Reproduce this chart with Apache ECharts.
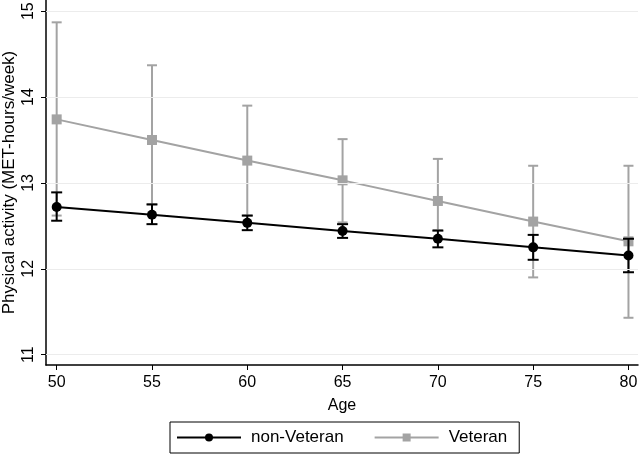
<!DOCTYPE html>
<html><head><meta charset="utf-8">
<script src="https://cdn.jsdelivr.net/npm/echarts@6/dist/echarts.min.js"></script>
<style>html,body{margin:0;padding:0;background:#fff}#c{width:640px;height:454px}</style>
</head><body><div id="c"></div>
<script>
const ages = [50, 55, 60, 65, 70, 75, 80];
const nonVetMean = [12.72, 12.63, 12.535, 12.44, 12.35, 12.25, 12.155];
const nonVetLow  = [12.56, 12.52, 12.45, 12.36, 12.25, 12.105, 11.96];
const nonVetHigh = [12.89, 12.75, 12.62, 12.52, 12.445, 12.395, 12.35];
const vetMean = [13.74, 13.50, 13.26, 13.03, 12.79, 12.55, 12.32];
const vetLow  = [12.62, 12.75, 12.62, 12.54, 12.45, 11.90, 11.43];
const vetHigh = [14.87, 14.37, 13.90, 13.51, 13.28, 13.20, 13.20];
const xTicks = [50, 55, 60, 65, 70, 75, 80];
const yTicks = [11, 12, 13, 14, 15];

const BLACK = '#000000', GRAY = '#a3a3a3';
const FONT = 'Liberation Sans, Arial, sans-serif';

function errSeries(name, low, high, color, capW) {
  return {
    type: 'custom', name: name + ' CI', silent: true, z: color === BLACK ? 4 : 2,
    data: ages.map((a, i) => [a, low[i], high[i]]),
    renderItem: function (params, api) {
      const x = api.value(0);
      const p1 = api.coord([x, api.value(1)]);
      const p2 = api.coord([x, api.value(2)]);
      const st = { stroke: color, lineWidth: 2 };
      return { type: 'group', children: [
        { type: 'line', shape: { x1: p1[0], y1: p1[1], x2: p2[0], y2: p2[1] }, style: st },
        { type: 'line', shape: { x1: p1[0] - capW / 2, y1: p1[1], x2: p1[0] + capW / 2, y2: p1[1] }, style: st },
        { type: 'line', shape: { x1: p2[0] - capW / 2, y1: p2[1], x2: p2[0] + capW / 2, y2: p2[1] }, style: st }
      ]};
    }
  };
}

const chart = echarts.init(document.getElementById('c'));
chart.setOption({
  animation: false,
  backgroundColor: '#fff',
  textStyle: { fontFamily: FONT },
  grid: { left: 46, right: 2, top: 0, bottom: 89, containLabel: false, outerBoundsMode: 'none' },
  xAxis: {
    type: 'value', min: 49.44, max: 80.5,
    name: 'Age', nameLocation: 'middle', nameGap: 33, nameMoveOverlap: false,
    nameTextStyle: { fontSize: 16, color: '#000', fontFamily: FONT },
    axisLine: { lineStyle: { color: '#000', width: 1.5 } },
    axisTick: { show: true, length: 5, lineStyle: { color: '#000' }, customValues: xTicks },
    axisLabel: { color: '#000', fontSize: 16, margin: 10, customValues: xTicks, fontFamily: FONT },
    splitLine: { show: false }
  },
  yAxis: {
    type: 'value', min: 10.88, max: 15.13,
    name: 'Physical activity (MET-hours/week)', nameLocation: 'middle', nameRotate: 90, nameGap: 28,
    nameMoveOverlap: false,
    nameTextStyle: { fontSize: 17, color: '#000', fontFamily: FONT },
    axisLine: { show: true, lineStyle: { color: '#000', width: 1.5 } },
    axisTick: { show: true, length: 5, lineStyle: { color: '#000' }, customValues: yTicks },
    axisLabel: { color: '#000', fontSize: 16, rotate: 90, margin: 9, customValues: yTicks, fontFamily: FONT },
    splitLine: { show: false }
  },
  legend: {
    bottom: 1, left: 170, itemGap: 30, padding: [7, 12, 7, 6],
    borderColor: '#000', borderWidth: 1, itemWidth: 64, itemHeight: 10,
    textStyle: { fontSize: 17, color: '#000', fontFamily: FONT, padding: [0, 0, 0, 5] },
    data: ['non-Veteran', 'Veteran']
  },
  series: [
    {
      type: 'line', name: 'grid', silent: true, data: [], z: 0,
      markLine: { silent: true, symbol: 'none', label: { show: false },
        lineStyle: { color: '#ececec', width: 1, type: 'solid' },
        data: yTicks.map(v => ({ yAxis: v })) }
    },
    errSeries('Veteran', vetLow, vetHigh, GRAY, 10),
    errSeries('non-Veteran', nonVetLow, nonVetHigh, BLACK, 11),
    {
      type: 'line', name: 'Veteran', z: 3,
      data: ages.map((a, i) => [a, vetMean[i]]),
      symbol: 'rect', symbolSize: 10,
      lineStyle: { color: GRAY, width: 2 }, itemStyle: { color: GRAY }
    },
    {
      type: 'line', name: 'non-Veteran', z: 5,
      data: ages.map((a, i) => [a, nonVetMean[i]]),
      symbol: 'circle', symbolSize: 10,
      lineStyle: { color: BLACK, width: 2 }, itemStyle: { color: BLACK }
    }
  ]
});
</script></body></html>
